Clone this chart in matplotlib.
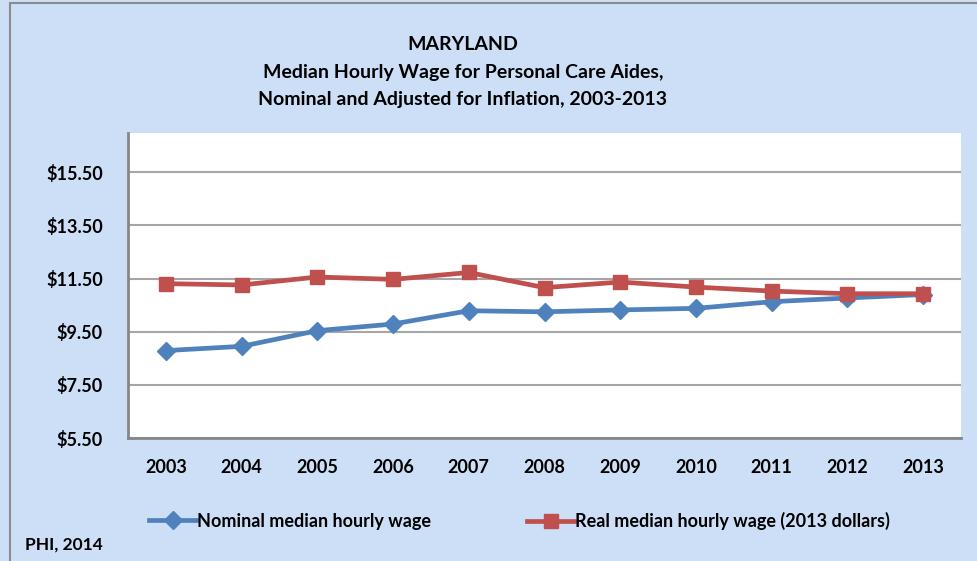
import matplotlib.pyplot as plt
from matplotlib.lines import Line2D
from matplotlib.patches import Rectangle

plt.rcParams['font.family'] = ['Lato', 'DejaVu Sans']

years = ['2003', '2004', '2005', '2006', '2007', '2008', '2009', '2010', '2011', '2012', '2013']
nominal = [8.79, 8.95, 9.54, 9.79, 10.29, 10.25, 10.32, 10.38, 10.63, 10.77, 10.90]
real = [11.31, 11.26, 11.56, 11.47, 11.73, 11.16, 11.37, 11.18, 11.03, 10.93, 10.93]
yticks = [5.5, 7.5, 9.5, 11.5, 13.5, 15.5]

bg = '#CCDFF7'
blue = '#4F81BD'
red = '#C0504D'

fig = plt.figure(figsize=(9.78, 5.61), dpi=100, facecolor=bg)
# outer frame
fig.patches.append(Rectangle((0.01, -0.01), 1.0, 1.005, transform=fig.transFigure,
                             fill=False, edgecolor='#8C8C8C', linewidth=1.5))

ax = fig.add_axes([128 / 978, 1 - 438 / 561, (961 - 128) / 978, (438 - 133) / 561])
ax.set_facecolor('white')

x = list(range(len(years)))
ax.plot(x, nominal, color=blue, linewidth=3.4, marker='D', markersize=9,
        label='Nominal median hourly wage', zorder=3)
ax.plot(x, real, color=red, linewidth=3.4, marker='s', markersize=10,
        label='Real median hourly wage (2013 dollars)', zorder=3)

ax.set_xlim(-0.5, len(years) - 0.5)
ax.set_ylim(5.5, 16.98)
ax.set_yticks(yticks)
ax.set_yticklabels(['${:.2f}'.format(v) for v in yticks], fontsize=13, fontweight='bold')
ax.set_xticks(x)
ax.set_xticklabels(years, fontsize=13, fontweight='bold')
ax.tick_params(axis='y', length=0, pad=18)
ax.tick_params(axis='x', length=0, pad=15)
ax.grid(axis='y', color='#A6A6A6', linewidth=1.5)
ax.set_axisbelow(True)
for s in ['top', 'right']:
    ax.spines[s].set_visible(False)
for s in ['left', 'bottom']:
    ax.spines[s].set_color('#868686')
    ax.spines[s].set_linewidth(2)
    ax.spines[s].set_zorder(4)

title_lines = ['MARYLAND',
               'Median Hourly Wage for Personal Care Aides,',
               'Nominal and Adjusted for Inflation, 2003-2013']
for yy, t in zip([44, 72, 99], title_lines):
    fig.text(463 / 978, 1 - yy / 561, t, ha='center', va='center',
             fontsize=14, fontweight='bold')

h1 = Line2D([], [], color=blue, linewidth=3.4, marker='D', markersize=9)
h2 = Line2D([], [], color=red, linewidth=3.4, marker='s', markersize=10)
fig.legend([h1], ['Nominal median hourly wage'], loc='center left',
           bbox_to_anchor=(133 / 978, 1 - 521 / 561), frameon=False,
           prop={'size': 13, 'weight': 'bold'}, handlelength=2.6, handletextpad=0.05)
fig.legend([h2], ['Real median hourly wage (2013 dollars)'], loc='center left',
           bbox_to_anchor=(511 / 978, 1 - 521 / 561), frameon=False,
           prop={'size': 13, 'weight': 'bold'}, handlelength=2.6, handletextpad=0.05)

fig.text(25 / 978, 1 - 545 / 561, 'PHI, 2014', ha='left', va='center',
         fontsize=12.5, fontweight='bold')

fig.savefig('out.png', dpi=100, facecolor=bg)
